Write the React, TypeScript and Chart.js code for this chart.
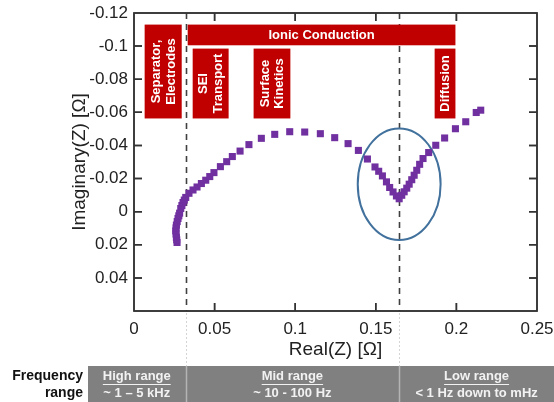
import { useEffect, useRef } from 'react';
import { Chart, registerables } from 'chart.js';

Chart.register(...registerables);

// ---- Data ----
const realZ = [
  0.0267, 0.0265, 0.0263, 0.0261, 0.0259, 0.0261, 0.0263, 0.0268, 0.0273, 0.0278, 0.0283, 0.0290,
  0.0297, 0.0304, 0.0312, 0.0321, 0.0341, 0.0366, 0.0391, 0.0418, 0.0445, 0.0470, 0.0496,
  0.0536, 0.0575, 0.0610, 0.0658, 0.0713, 0.0790, 0.0873, 0.0966, 0.1059, 0.1156, 0.1245,
  0.1328, 0.1392, 0.1448, 0.1495, 0.1518, 0.1541, 0.1566, 0.1586, 0.1607, 0.1628, 0.1645,
  0.1661, 0.1676, 0.1692, 0.1707, 0.1723, 0.1738, 0.1754, 0.1772, 0.1793, 0.1828, 0.1872,
  0.1927, 0.1994, 0.2058, 0.2123, 0.2151,
];
const imagZ = [
  0.0186, 0.0170, 0.0155, 0.0135, 0.0116, 0.0098, 0.0081, 0.0060, 0.0041, 0.0025, 0.0009, -0.0019,
  -0.0037, -0.0055, -0.0070, -0.0086, -0.0111, -0.0131, -0.0149, -0.0170, -0.0190, -0.0212, -0.0236,
  -0.0272, -0.0302, -0.0333, -0.0366, -0.0405, -0.0443, -0.0467, -0.0483, -0.0481, -0.0471, -0.0447,
  -0.0411, -0.0370, -0.0318, -0.0270, -0.0244, -0.0216, -0.0180, -0.0146, -0.0119, -0.0095, -0.0078,
  -0.0099, -0.0120, -0.0142, -0.0166, -0.0193, -0.0220, -0.0250, -0.0286, -0.0321, -0.0357, -0.0401,
  -0.0445, -0.0501, -0.0543, -0.0599, -0.0613,
];

// Vertical boundaries (Real(Z) values of the dashed lines)
const boundaryReal = [0.032, 0.1645];

// Process labels (red boxes)
const processLabels = [['Separator,', 'Electrodes'], ['SEI', 'Transport'], ['Surface', 'Kinetics'], ['Diffusion']];
const processFrom = [0.0066, 0.0364, 0.0742, 0.1865];
const processTo = [0.0296, 0.0587, 0.097, 0.1994];
const processTop = [-0.113, -0.0985, -0.0985, -0.0985];
const processBottom = [-0.0563, -0.0563, -0.0563, -0.0563];
const ionicLabel = 'Ionic Conduction';
const ionicSpan = [0.0333, 0.1994];
const ionicTopBottom = [-0.113, -0.1005];

// Highlight ellipse (center / radii in data units)
const ellipseCenter = [0.1645, -0.0166];
const ellipseRadius = [0.0257, 0.0337];

// Frequency table
const freqTitle = ['Frequency', 'range'];
const freqHeaders = ['High range', 'Mid range', 'Low range'];
const freqRanges = ['~ 1 \u2013 5 kHz', '~ 10 - 100 Hz', '< 1 Hz down to mHz'];

const FONT = '"Liberation Sans", Arial, Helvetica, sans-serif';
const AXIS_COLOR = '#333333';

const fmt = (v: number) => String(parseFloat(Number(v).toFixed(4)));

function drawFrame(chart: any) {
  const { ctx, chartArea: a, scales } = chart;
  const xs = scales.x;
  const ys = scales.y;
  ctx.save();
  ctx.setLineDash([]);
  ctx.globalAlpha = 1;
  ctx.globalCompositeOperation = 'source-over';
  ctx.strokeStyle = AXIS_COLOR;
  ctx.lineWidth = 1.5;
  ctx.beginPath();
  ctx.moveTo(a.left, a.top);
  ctx.lineTo(a.right, a.top);
  ctx.lineTo(a.right, a.bottom);
  ctx.lineTo(a.left, a.bottom);
  ctx.closePath();
  ctx.stroke();
  const tl = 8;
  ctx.beginPath();
  xs.ticks.forEach((t: any) => {
    if (t.value <= xs.min + 1e-9 || t.value >= xs.max - 1e-9) return;
    const px = xs.getPixelForValue(t.value);
    ctx.moveTo(px, a.bottom);
    ctx.lineTo(px, a.bottom - tl);
    ctx.moveTo(px, a.top);
    ctx.lineTo(px, a.top + tl);
  });
  ys.ticks.forEach((t: any) => {
    if (t.value <= ys.min + 1e-9 || t.value >= ys.max - 1e-9) return;
    const py = ys.getPixelForValue(t.value);
    ctx.moveTo(a.left, py);
    ctx.lineTo(a.left + tl, py);
    ctx.moveTo(a.right, py);
    ctx.lineTo(a.right - tl, py);
  });
  ctx.stroke();
  ctx.restore();
}

const decorPlugin = {
  id: 'decor',
  beforeDatasetsDraw(chart: any) {
    const { ctx, chartArea: a, scales } = chart;
    const xs = scales.x;
    const ys = scales.y;
    ctx.save();
    // dashed boundary lines
    ctx.strokeStyle = '#404040';
    ctx.lineWidth = 1.6;
    ctx.setLineDash([6, 5]);
    boundaryReal.forEach((v) => {
      const px = Math.round(xs.getPixelForValue(v)) + 0.5;
      ctx.beginPath();
      ctx.moveTo(px, a.top);
      ctx.lineTo(px, a.bottom);
      ctx.stroke();
    });
    // faint extension to the table
    ctx.strokeStyle = '#d4d4d4';
    ctx.lineWidth = 1;
    ctx.setLineDash([2, 2]);
    boundaryReal.forEach((v) => {
      const px = Math.round(xs.getPixelForValue(v)) + 0.5;
      ctx.beginPath();
      ctx.moveTo(px, a.bottom + 2);
      ctx.lineTo(px, 366);
      ctx.stroke();
    });
    ctx.setLineDash([]);

    // red process boxes
    ctx.fillStyle = '#c00000';
    const ix0 = xs.getPixelForValue(ionicSpan[0]);
    const ix1 = xs.getPixelForValue(ionicSpan[1]);
    const iy0 = ys.getPixelForValue(ionicTopBottom[0]);
    const iy1 = ys.getPixelForValue(ionicTopBottom[1]);
    ctx.fillRect(ix0, iy0, ix1 - ix0, iy1 - iy0);
    ctx.fillStyle = '#ffffff';
    ctx.font = `bold 13px ${FONT}`;
    ctx.textAlign = 'center';
    ctx.textBaseline = 'middle';
    ctx.fillText(ionicLabel, (ix0 + ix1) / 2, (iy0 + iy1) / 2 + 0.5);

    processLabels.forEach((lines, i) => {
      const x0 = xs.getPixelForValue(processFrom[i]);
      const x1 = xs.getPixelForValue(processTo[i]);
      const y0 = ys.getPixelForValue(processTop[i]);
      const y1 = ys.getPixelForValue(processBottom[i]);
      ctx.fillStyle = '#c00000';
      ctx.fillRect(x0, y0, x1 - x0, y1 - y0);
      ctx.save();
      ctx.translate((x0 + x1) / 2, (y0 + y1) / 2);
      ctx.rotate(-Math.PI / 2);
      ctx.fillStyle = '#ffffff';
      ctx.font = `bold 13px ${FONT}`;
      ctx.textAlign = 'center';
      ctx.textBaseline = 'middle';
      const lh = 14.5;
      lines.forEach((t, j) => {
        const off = (j - (lines.length - 1) / 2) * lh;
        ctx.fillText(t, 0, off + 0.5);
      });
      ctx.restore();
    });

    // ellipse
    const cx = xs.getPixelForValue(ellipseCenter[0]);
    const cy = ys.getPixelForValue(ellipseCenter[1]);
    const rx = Math.abs(xs.getPixelForValue(ellipseCenter[0] + ellipseRadius[0]) - cx);
    const ry = Math.abs(ys.getPixelForValue(ellipseCenter[1] + ellipseRadius[1]) - cy);
    ctx.strokeStyle = '#41719c';
    ctx.lineWidth = 2;
    ctx.beginPath();
    ctx.ellipse(cx, cy, rx, ry, 0, 0, Math.PI * 2);
    ctx.stroke();
    ctx.restore();
  },
  afterDatasetsDraw(chart: any) {
    drawFrame(chart);
  },
  afterDraw(chart: any) {
    const { ctx, scales } = chart;
    const xs = scales.x;
    ctx.save();
    ctx.setLineDash([]);
    // frequency table
    const tTop = 366;
    const tBot = chart.height;
    const edges = [88, ...boundaryReal.map((v) => xs.getPixelForValue(v)), chart.width];
    ctx.fillStyle = '#808080';
    ctx.fillRect(edges[0], tTop, edges[edges.length - 1] - edges[0], tBot - tTop);
    ctx.strokeStyle = '#b4b4b4';
    ctx.lineWidth = 1.5;
    ctx.beginPath();
    for (let i = 1; i < edges.length - 1; i++) {
      const px = Math.round(edges[i]) + 0.5;
      ctx.moveTo(px, tTop);
      ctx.lineTo(px, tBot);
    }
    ctx.stroke();

    ctx.textBaseline = 'middle';
    ctx.fillStyle = '#111111';
    ctx.font = `bold 14px ${FONT}`;
    ctx.textAlign = 'right';
    ctx.fillText(freqTitle[0], 83, 376);
    ctx.fillText(freqTitle[1], 83, 393);

    ctx.textAlign = 'center';
    ctx.font = `bold 13px ${FONT}`;
    ctx.fillStyle = '#f2f2f2';
    ctx.strokeStyle = '#f2f2f2';
    ctx.lineWidth = 1;
    for (let i = 0; i < freqHeaders.length; i++) {
      const cxm = (edges[i] + edges[i + 1]) / 2;
      ctx.fillText(freqHeaders[i], cxm, 376);
      const w = ctx.measureText(freqHeaders[i]).width;
      ctx.beginPath();
      ctx.moveTo(cxm - w / 2, 384.5);
      ctx.lineTo(cxm + w / 2, 384.5);
      ctx.stroke();
      ctx.fillText(freqRanges[i], cxm, 393);
    }
    ctx.restore();
    drawFrame(chart);
  },
};

export default function App() {
  const ref = useRef<HTMLCanvasElement | null>(null);
  useEffect(() => {
    if (!ref.current) return;
    const points = realZ.map((x, i) => ({ x, y: imagZ[i] }));
    const chart = new Chart(ref.current, {
      type: 'scatter',
      data: {
        datasets: [
          {
            data: points,
            pointStyle: 'rect',
            pointRadius: 5,
            pointBackgroundColor: '#7030a0',
            pointBorderColor: '#7030a0',
            pointBorderWidth: 0,
            showLine: false,
          },
        ],
      },
      options: {
        responsive: false,
        animation: false,
        layout: { padding: { left: 68, right: 17, top: 13, bottom: 40.6 } },
        plugins: { legend: { display: false }, tooltip: { enabled: false } },
        scales: {
          x: {
            type: 'linear',
            min: 0,
            max: 0.25,
            grid: { display: false, drawTicks: false },
            border: { display: false },
            ticks: {
              stepSize: 0.05,
              color: '#222',
              font: { family: FONT, size: 17 },
              padding: 8,
              maxRotation: 0,
              callback: (v: any) => fmt(v),
            },
            title: {
              display: true,
              text: 'Real(Z) [\u03A9]',
              color: '#222',
              font: { family: FONT, size: 19 },
              padding: 0,
            },
            afterFit: (s: any) => {
              s.height = 50.4;
              s.paddingLeft = 0;
              s.paddingRight = 0;
            },
          },
          y: {
            type: 'linear',
            min: -0.12,
            max: 0.06,
            reverse: true,
            grid: { display: false, drawTicks: false },
            border: { display: false },
            ticks: {
              stepSize: 0.02,
              color: '#222',
              font: { family: FONT, size: 17 },
              padding: 6,
              callback: (v: any) => (Math.abs(v - 0.06) < 1e-9 ? '' : fmt(v)),
            },
            title: {
              display: true,
              text: 'Imaginary(Z) [\u03A9]',
              color: '#222',
              font: { family: FONT, size: 19 },
              padding: 0,
            },
            afterFit: (s: any) => {
              s.width = 66;
              s.paddingTop = 0;
              s.paddingBottom = 0;
            },
          },
        },
      },
      plugins: [decorPlugin],
    });
    return () => chart.destroy();
  }, []);
  return (
    <div style={{ position: 'fixed', left: 0, top: 0, width: 554, height: 402, background: '#fff' }}>
      <canvas ref={ref} width={554} height={402} />
    </div>
  );
}
